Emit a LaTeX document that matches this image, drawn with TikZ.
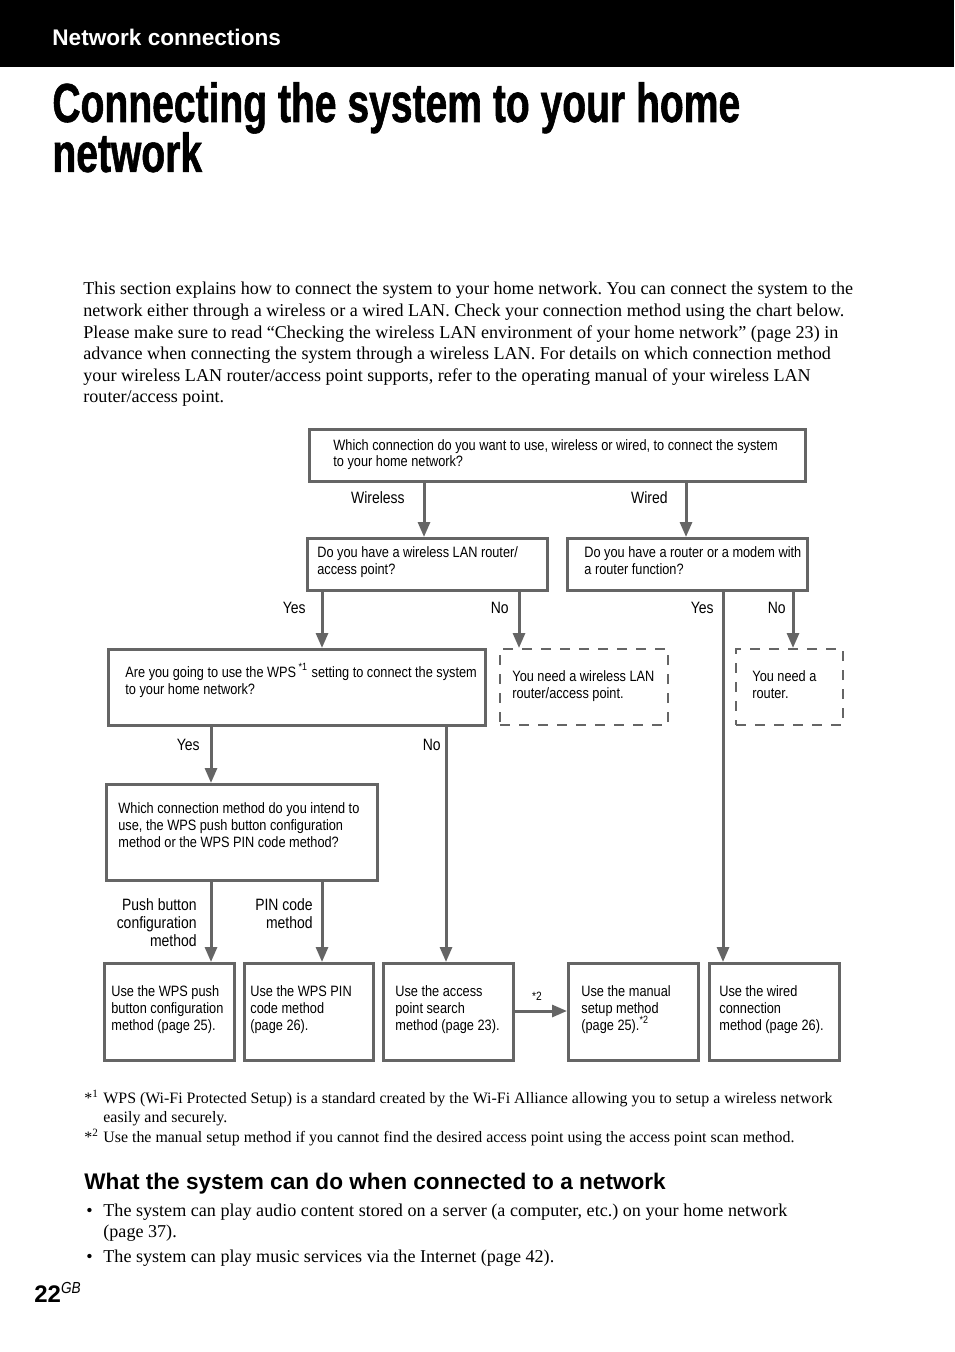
\documentclass[tikz,border=0pt]{standalone}
\usepackage{fontspec}
\setmainfont{Liberation Serif}
\newfontfamily\headfont{Liberation Sans}
\newfontfamily\flowfont[FakeStretch=0.85]{Liberation Sans}
\newfontfamily\titlefont[FakeStretch=0.71,FakeBold=1]{Liberation Sans}
\usetikzlibrary{arrows.meta, positioning, calc}
\definecolor{ink}{HTML}{656565}
\frenchspacing

\begin{document}
\begin{tikzpicture}[
  x=0.5pt, y=-0.5pt,
  box/.style={draw=ink, line width=1.4pt, rectangle, inner sep=0pt, anchor=north west},
  dbox/.style={draw=ink, line width=1pt, dash pattern=on 5pt off 4.5pt, rectangle,
               inner sep=0pt, anchor=north west},
  txt/.style={anchor=base west, inner sep=0pt, align=flush left, text width=#1,
              font=\flowfont\fontsize{7.5}{8.5}\selectfont},
  txt/.default=130pt,
  lab/.style={anchor=base east, inner sep=0pt, align=flush right,
              font=\flowfont\fontsize{8.2}{9}\selectfont},
  arr/.style={draw=ink, line width=1.5pt, -{Triangle[length=7.5pt, width=6pt]}},
  body/.style={anchor=base west, inner sep=0pt, align=flush left, text width=#1,
               font=\fontsize{9.05}{10.8}\selectfont},
  body/.default=440pt,
  foot/.style={anchor=base west, inner sep=0pt, align=flush left, text width=420pt,
               font=\fontsize{7.95}{9.6}\selectfont}
]
\useasboundingbox (0,0) rectangle (954,1352);

% page header and title
\fill[black] (0,0) rectangle (954,67);
\node[anchor=base west, inner sep=0pt, text=white,
      font=\headfont\bfseries\fontsize{11.3}{13}\selectfont] (chapter) at (52,46) {Network connections};
\node[anchor=base west, inner sep=0pt, align=flush left, text width=460pt,
      font=\titlefont\bfseries\fontsize{27.5}{25}\selectfont] (title) at (52,122)
  {Connecting the system to your home\\[-1.8pt]network};

\node[body] (intro) at (83,295)
  {This section explains how to connect the system to your home network. You can connect the system to the\\
   network either through a wireless or a wired LAN. Check your connection method using the chart below.\\
   Please make sure to read “Checking the wireless LAN environment of your home network” (page 23) in\\
   advance when connecting the system through a wireless LAN. For details on which connection method\\
   your wireless LAN router/access point supports, refer to the operating manual of your wireless LAN\\
   router/access point.};

% flow chart boxes
\node[box, minimum width=248pt, minimum height=26pt] (conn) at (308,428) {};
\node[box, minimum width=120pt, minimum height=26pt] (wlan) at (306,537) {};
\node[box, minimum width=120pt, minimum height=26pt] (router) at (566,537) {};
\node[box, minimum width=188.5pt, minimum height=38pt] (wps) at (107,648) {};
\node[dbox, minimum width=84pt, minimum height=38pt] (needap) at (499,648) {};
\node[dbox, minimum width=53.5pt, minimum height=38pt] (needrt) at (735,648) {};
\node[box, minimum width=135.5pt, minimum height=48pt] (method) at (105,783) {};
\node[box, minimum width=65pt, minimum height=48.5pt] (push) at (103,962) {};
\node[box, minimum width=64.5pt, minimum height=48.5pt] (pin) at (243,962) {};
\node[box, minimum width=65pt, minimum height=48.5pt] (search) at (382,962) {};
\node[box, minimum width=65pt, minimum height=48.5pt] (manual) at (567,962) {};
\node[box, minimum width=65pt, minimum height=48.5pt] (wired) at (708,962) {};

% box texts
\node[txt=250pt] (conn-t) at (333,450)
  {Which connection do you want to use, wireless or wired, to connect the system\\to your home network?};
\node[txt=120pt] (wlan-t) at (317,557) {Do you have a wireless LAN router/\\access point?};
\node[txt=120pt] (router-t) at (584,557) {Do you have a router or a modem with\\a router function?};
\node[txt=190pt] (wps-t) at (125,677)
  {Are you going to use the WPS\,\textsuperscript{*1} setting to connect the system\\to your home network?};
\node[txt=84pt] (needap-t) at (512,681) {You need a wireless LAN\\router/access point.};
\node[txt=54pt] (needrt-t) at (752,681) {You need a\\router.};
\node[txt=136pt] (method-t) at (118,813)
  {Which connection method do you intend to\\use, the WPS push button configuration\\method or the WPS PIN code method?};
\node[txt=65pt] (push-t) at (111,996) {Use the WPS push\\button configuration\\method (page 25).};
\node[txt=65pt] (pin-t) at (250,996) {Use the WPS PIN\\code method\\(page 26).};
\node[txt=65pt] (search-t) at (395,996) {Use the access\\point search\\method (page 23).};
\node[txt=65pt] (manual-t) at (581,996) {Use the manual\\setup method\\(page 25).\textsuperscript{*2}};
\node[txt=65pt] (wired-t) at (719,996) {Use the wired\\connection\\method (page 26).};

% connectors
\draw[arr] (conn.south -| 424,0) -- (wlan.north -| 424,0);
\draw[arr] (conn.south -| 686,0) -- (router.north -| 686,0);
\draw[arr] (wlan.south -| 322,0) -- (wps.north -| 322,0);
\draw[arr] (wlan.south -| 519,0) -- (needap.north -| 519,0);
\draw[arr] (router.south -| 723,0) -- (wired.north -| 723,0);
\draw[arr] (router.south -| 793,0) -- (needrt.north -| 793,0);
\draw[arr] (wps.south -| 211,0) -- (method.north -| 211,0);
\draw[arr] (wps.south -| 446,0) -- (search.north -| 446,0);
\draw[arr] (method.south -| 211,0) -- (push.north -| 211,0);
\draw[arr] (method.south -| 322,0) -- (pin.north -| 322,0);
\draw[arr] (search.east |- 0,1011) -- (manual.west |- 0,1011);

% connector labels
\node[lab] (l-wireless) at (405,503) {Wireless};
\node[lab] (l-wired) at (668,503) {Wired};
\node[lab] (l-yes1) at (306,613) {Yes};
\node[lab] (l-no1) at (509,613) {No};
\node[lab] (l-yes2) at (714,613) {Yes};
\node[lab] (l-no2) at (786,613) {No};
\node[lab] (l-yes3) at (200,750) {Yes};
\node[lab] (l-no3) at (441,750) {No};
\node[lab, text width=60pt] (l-push) at (197,910) {Push button\\configuration\\method};
\node[lab, text width=40pt] (l-pin) at (313,910) {PIN code\\method};
\node[anchor=base, inner sep=0pt, font=\flowfont\fontsize{6}{7}\selectfont] (l-note) at (537,1000) {*2};

% footnotes
\node[foot, text width=20pt] (fn1-m) at (84,1103) {*\textsuperscript{1}};
\node[foot] (fn1) at (103,1103)
  {WPS (Wi-Fi Protected Setup) is a standard created by the Wi-Fi Alliance allowing you to setup a wireless network\\easily and securely.};
\node[foot, text width=20pt] (fn2-m) at (84,1142) {*\textsuperscript{2}};
\node[foot] (fn2) at (103,1142)
  {Use the manual setup method if you cannot find the desired access point using the access point scan method.};

% section
\node[anchor=base west, inner sep=0pt,
      font=\headfont\bfseries\fontsize{11.3}{13}\selectfont] (section) at (84,1189)
  {What the system can do when connected to a network};
\node[body=20pt] (b1-m) at (86,1216) {\textbullet};
\node[body] (b1) at (103,1216)
  {The system can play audio content stored on a server (a computer, etc.) on your home network\\(page 37).};
\node[body=20pt] (b2-m) at (86,1262) {\textbullet};
\node[body] (b2) at (103,1262) {The system can play music services via the Internet (page 42).};

% page number
\node[anchor=base west, inner sep=0pt, font=\headfont\bfseries\fontsize{12}{14}\selectfont] (pageno) at (34,1302)
  {22\textsuperscript{\flowfont\mdseries\itshape GB}};
\end{tikzpicture}
\end{document}
